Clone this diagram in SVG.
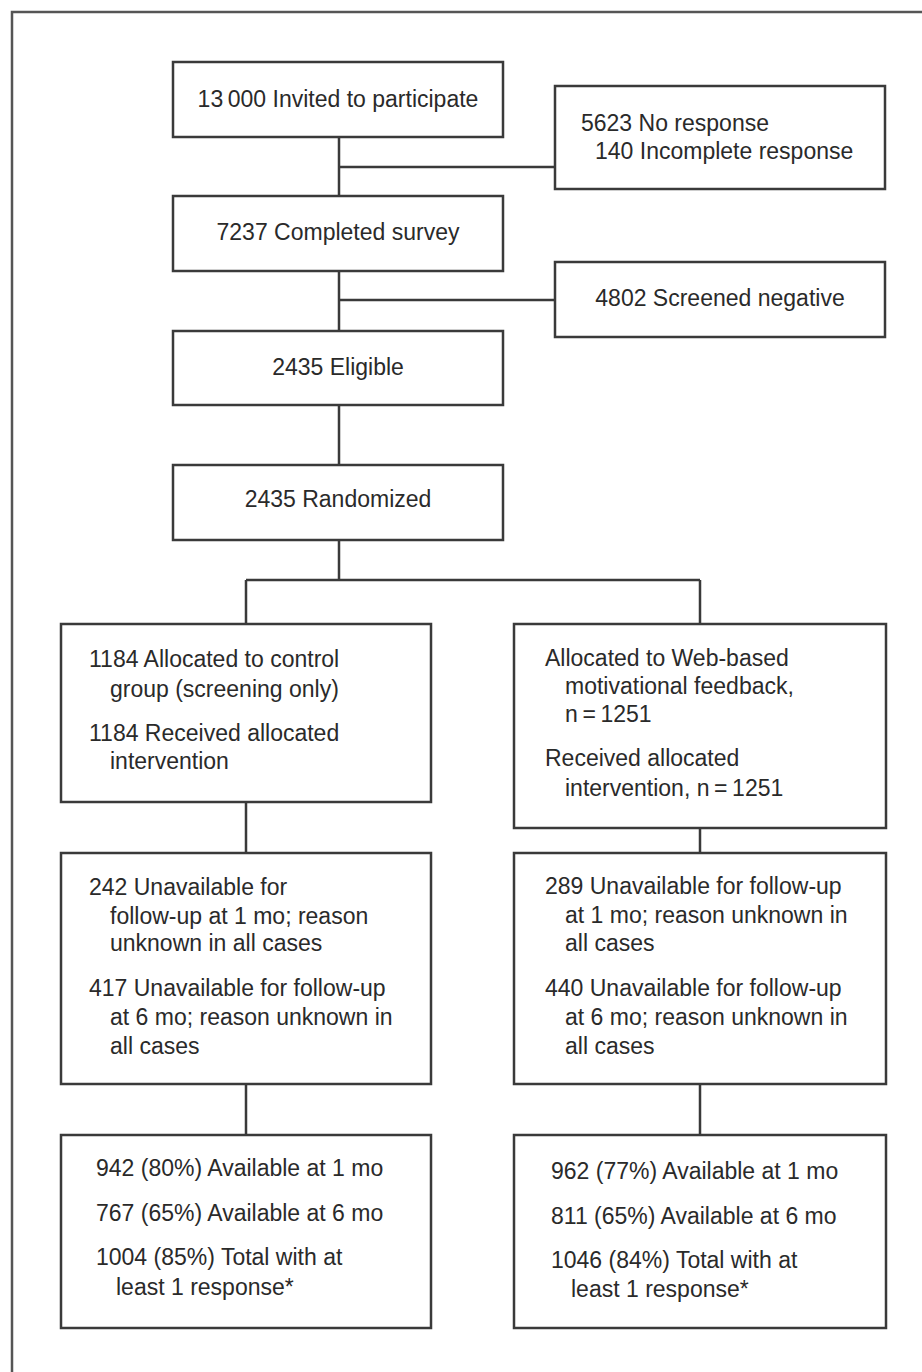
<svg xmlns="http://www.w3.org/2000/svg" width="922" height="1372" viewBox="0 0 922 1372">
<style>
.box{fill:#fff;stroke:#3a3a3a;stroke-width:2.5}
.t{font-family:"Liberation Sans",Arial,sans-serif;font-size:23px;fill:#2a2a2a}
.c{text-anchor:middle}
.ln{stroke:#3a3a3a;stroke-width:2.5;fill:none}
</style>
<rect width="922" height="1372" fill="#fff"/>
<path d="M12,1372 V12 H922" fill="none" stroke="#555" stroke-width="2.5"/>
<g id="connectors">
<path class="ln" d="M339,137 V196 M339,167 H555 M339,271 V331 M339,300 H555 M339,405 V465 M339,540 V580 M246,580 H700 M246,580 V624 M700,580 V624 M246,802 V853 M700,828 V853 M246,1084 V1135 M700,1084 V1135"/>
</g>
<g id="invited">
<rect class="box" x="173" y="62" width="330" height="75"/>
<text class="t c" x="338" y="107">13&#8201;000 Invited to participate</text>
</g>
<g id="noresponse">
<rect class="box" x="555" y="86" width="330" height="103"/>
<text class="t" x="581" y="131">5623 No response</text>
<text class="t" x="595" y="159">140 Incomplete response</text>
</g>
<g id="completed">
<rect class="box" x="173" y="196" width="330" height="75"/>
<text class="t c" x="338" y="240">7237 Completed survey</text>
</g>
<g id="screenedneg">
<rect class="box" x="555" y="262" width="330" height="75"/>
<text class="t c" x="720" y="306">4802 Screened negative</text>
</g>
<g id="eligible">
<rect class="box" x="173" y="331" width="330" height="74"/>
<text class="t c" x="338" y="375">2435 Eligible</text>
</g>
<g id="randomized">
<rect class="box" x="173" y="465" width="330" height="75"/>
<text class="t c" x="338" y="507">2435 Randomized</text>
</g>
<g id="control">
<rect class="box" x="61" y="624" width="370" height="178"/>
<text class="t" x="89" y="667">1184 Allocated to control</text>
<text class="t" x="110" y="697">group (screening only)</text>
<text class="t" x="89" y="741">1184 Received allocated</text>
<text class="t" x="110" y="769">intervention</text>
</g>
<g id="web">
<rect class="box" x="514" y="624" width="372" height="204"/>
<text class="t" x="545" y="666">Allocated to Web-based</text>
<text class="t" x="565" y="694">motivational feedback,</text>
<text class="t" x="565" y="722">n&#8201;=&#8201;1251</text>
<text class="t" x="545" y="766">Received allocated</text>
<text class="t" x="565" y="796">intervention, n&#8201;=&#8201;1251</text>
</g>
<g id="controlloss">
<rect class="box" x="61" y="853" width="370" height="231"/>
<text class="t" x="89" y="895">242 Unavailable for</text>
<text class="t" x="110" y="924">follow-up at 1 mo; reason</text>
<text class="t" x="110" y="951">unknown in all cases</text>
<text class="t" x="89" y="996">417 Unavailable for follow-up</text>
<text class="t" x="110" y="1025">at 6 mo; reason unknown in</text>
<text class="t" x="110" y="1054">all cases</text>
</g>
<g id="webloss">
<rect class="box" x="514" y="853" width="372" height="231"/>
<text class="t" x="545" y="894">289 Unavailable for follow-up</text>
<text class="t" x="565" y="923">at 1 mo; reason unknown in</text>
<text class="t" x="565" y="951">all cases</text>
<text class="t" x="545" y="996">440 Unavailable for follow-up</text>
<text class="t" x="565" y="1025">at 6 mo; reason unknown in</text>
<text class="t" x="565" y="1054">all cases</text>
</g>
<g id="controlresult">
<rect class="box" x="61" y="1135" width="370" height="193"/>
<text class="t" x="96" y="1176">942 (80%) Available at 1 mo</text>
<text class="t" x="96" y="1221">767 (65%) Available at 6 mo</text>
<text class="t" x="96" y="1265">1004 (85%) Total with at</text>
<text class="t" x="116" y="1295">least 1 response*</text>
</g>
<g id="webresult">
<rect class="box" x="514" y="1135" width="372" height="193"/>
<text class="t" x="551" y="1179">962 (77%) Available at 1 mo</text>
<text class="t" x="551" y="1224">811 (65%) Available at 6 mo</text>
<text class="t" x="551" y="1268">1046 (84%) Total with at</text>
<text class="t" x="571" y="1297">least 1 response*</text>
</g>
</svg>
